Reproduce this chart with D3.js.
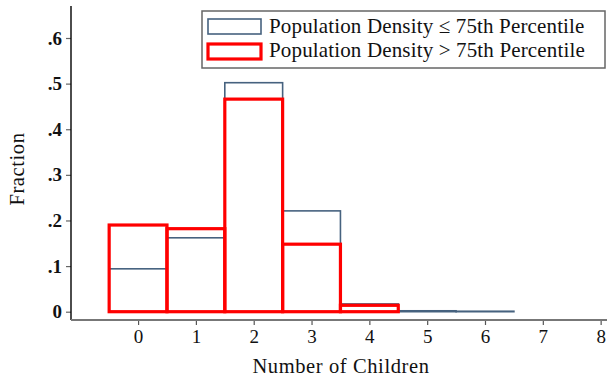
<!DOCTYPE html>
<html>
<head>
<meta charset="utf-8">
<script src="https://cdn.jsdelivr.net/npm/d3@7"></script>
<style>
  html, body { margin: 0; padding: 0; background: #fff; }
  svg { display: block; }
  text { font-family: "Liberation Serif", "DejaVu Serif", serif; fill: #111; }
</style>
</head>
<body>
<svg id="chart" width="607" height="380"></svg>
<script>
// Number of children per household, share of households by density group
const children = [0, 1, 2, 3, 4, 5, 6];
const lowDensity = [0.094, 0.162, 0.502, 0.221, 0.017, 0.002, 0.001];   // <= 75th percentile
const highDensityChildren = [0, 1, 2, 3, 4];
const highDensity = [0.190, 0.182, 0.466, 0.148, 0.014];                 // > 75th percentile
const xTicks = [0, 1, 2, 3, 4, 5, 6, 7, 8];
const yTicks = [0, 0.1, 0.2, 0.3, 0.4, 0.5, 0.6];
const legendLabels = ["Population Density \u2264 75th Percentile", "Population Density > 75th Percentile"];

const svg = d3.select("#chart");
const plot = { left: 71, right: 607, top: 6, bottom: 320 };

const x = d3.scaleLinear().domain([-1.16, 8.11]).range([plot.left, plot.right]);
const y = d3.scaleLinear().domain([0, 0.6]).range([311.7, 38]);

const blue = "#46627f";
const red = "#ff0000";

// low-density bars (thin outline)
svg.append("g").selectAll("rect")
  .data(children.map((c, i) => ({ c, v: lowDensity[i] })))
  .join("rect")
  .attr("x", d => x(d.c - 0.5))
  .attr("width", d => x(d.c + 0.5) - x(d.c - 0.5))
  .attr("y", d => y(d.v))
  .attr("height", d => y(0) - y(d.v))
  .attr("fill", "none")
  .attr("stroke", blue)
  .attr("stroke-width", 1.6);

// high-density bars (thick red outline)
svg.append("g").selectAll("rect")
  .data(highDensityChildren.map((c, i) => ({ c, v: highDensity[i] })))
  .join("rect")
  .attr("x", d => x(d.c - 0.5))
  .attr("width", d => x(d.c + 0.5) - x(d.c - 0.5))
  .attr("y", d => y(d.v))
  .attr("height", d => y(0) - y(d.v))
  .attr("fill", "none")
  .attr("stroke", red)
  .attr("stroke-width", 3.2);

// y axis
const yAxis = svg.append("g")
  .attr("transform", `translate(${plot.left},0)`)
  .call(d3.axisLeft(y).tickValues(yTicks).tickSize(5).tickPadding(4)
    .tickFormat(d => d === 0 ? "0" : d3.format(".1f")(d).replace(/^0/, "")));
yAxis.select(".domain").remove();
yAxis.append("line")
  .attr("x1", 0).attr("x2", 0).attr("y1", plot.top).attr("y2", plot.bottom)
  .attr("stroke", "#000").attr("stroke-width", 1.4);
yAxis.selectAll(".tick line").attr("stroke", "#666").attr("stroke-width", 1.2);
yAxis.selectAll(".tick text")
  .style("font-size", "19px").style("font-weight", "bold").attr("fill", "#111");

// x axis
const xAxis = svg.append("g")
  .attr("transform", `translate(0,${plot.bottom})`)
  .call(d3.axisBottom(x).tickValues(xTicks).tickSize(5).tickPadding(5).tickFormat(d3.format("d")));
xAxis.select(".domain").remove();
xAxis.append("line")
  .attr("x1", plot.left).attr("x2", plot.right).attr("y1", 0).attr("y2", 0)
  .attr("stroke", "#777").attr("stroke-width", 2);
xAxis.selectAll(".tick line").attr("stroke", "#555").attr("stroke-width", 1.2);
xAxis.selectAll(".tick text").style("font-size", "19px").attr("fill", "#111");

// axis titles
svg.append("text")
  .attr("x", (plot.left + plot.right) / 2 + 2).attr("y", 373)
  .attr("text-anchor", "middle")
  .style("font-size", "20.5px").style("letter-spacing", "0.6px")
  .text("Number of Children");
svg.append("text")
  .attr("transform", "translate(24,169) rotate(-90)")
  .attr("text-anchor", "middle")
  .style("font-size", "20.5px").style("letter-spacing", "0.6px")
  .text("Fraction");

// legend
const legend = svg.append("g");
legend.append("rect")
  .attr("x", 202).attr("y", 11).attr("width", 403).attr("height", 57)
  .attr("fill", "#fff").attr("stroke", "#666").attr("stroke-width", 1.5);
const swatches = [
  { color: blue, width: 1.6, y: 19, h: 15, base: 32.7 },
  { color: red, width: 3.2, y: 44, h: 15, base: 57 }
];
swatches.forEach((s, i) => {
  legend.append("rect")
    .attr("x", 208).attr("y", s.y).attr("width", 53).attr("height", s.h)
    .attr("fill", "none").attr("stroke", s.color).attr("stroke-width", s.width);
  legend.append("text")
    .attr("x", 269).attr("y", s.base)
    .style("font-size", "21px").style("letter-spacing", "0.15px")
    .text(legendLabels[i]);
});
</script>
</body>
</html>
